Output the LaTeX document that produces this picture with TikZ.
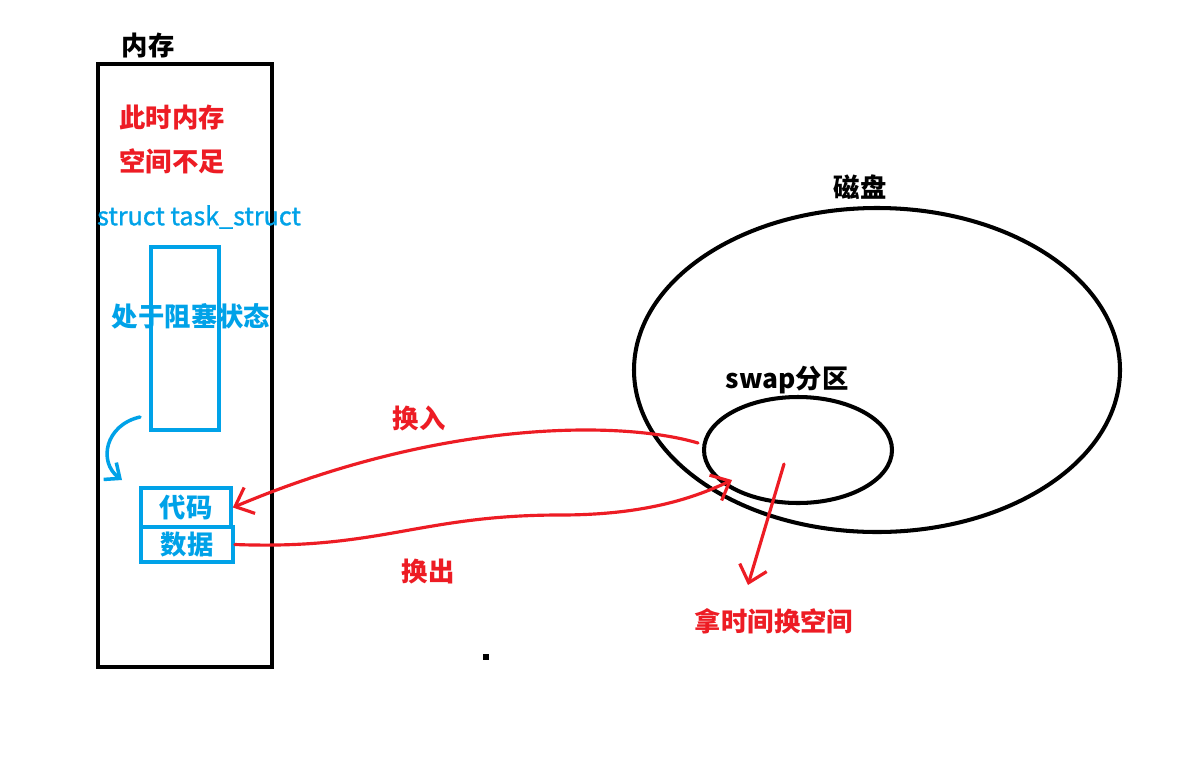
\documentclass[tikz,border=0pt]{standalone}
\usepackage{fontspec}
\newfontfamily\cjk{Noto Sans CJK SC}
\newfontfamily\cjkmid[FakeBold=1.2]{Noto Sans CJK SC}
\usetikzlibrary{arrows.meta,positioning}
\definecolor{paintred}{RGB}{237,28,36}
\definecolor{paintblue}{RGB}{0,162,232}
\newcommand{\cjkbig}{\fontsize{15}{18}\selectfont\cjk\bfseries}

\begin{document}
\begin{tikzpicture}[x=0.02cm, y=-0.02cm,
    blackbox/.style = {draw, line width=2.3pt, inner sep=0pt},
    bluebox/.style = {draw=paintblue, line width=2.1pt, inner sep=0pt},
    title/.style = {font=\cjkbig},
    redlabel/.style = {font=\cjkbig, text=paintred},
    bluelabel/.style = {font=\cjkbig, text=paintblue},
    redline/.style = {draw=paintred, line width=1.8pt, line cap=round},
    barb/.style = {-{Straight Barb[length=9pt, width=16pt, line width=1.8pt]}}
  ]
    \useasboundingbox (0,0) rectangle (1196,758);
    \fill[white] (0,0) rectangle (1196,758);

    % memory
    \node[blackbox, minimum width=3.48cm, minimum height=12.06cm] (mem) at (185,365.5) {};
    \node[title] (memtitle) at (148,45) {内存};
    \node[redlabel] (short1) at (172,117) {此时内存};
    \node[redlabel] (short2) at (172,161) {空间不足};
    \node[font=\fontsize{14.3}{16}\selectfont\cjkmid, text=paintblue] (pcbname) at (199,217) {struct task\_struct};
    \node[bluebox, minimum width=1.36cm, minimum height=3.66cm] (pcb) at (185,338.5) {};
    \node[bluelabel] (blocked) at (191,316) {处于阻塞状态};
    \node[bluebox, minimum width=1.8cm, minimum height=0.78cm] (code) at (186,507.5) {};
    \node[bluelabel] at (code) {代码};
    \node[bluebox, minimum width=1.84cm, minimum height=0.70cm] (data) at (187,544.5) {};
    \node[bluelabel] at (data) {数据};

    \coordinate (bluestart) at (140,417);
    \coordinate (blueend) at (122,480);
    \draw[paintblue, line width=2pt, line cap=round, -{Straight Barb[length=7pt, width=12pt, line width=2pt]}]
        (bluestart) .. controls (105,425) and (98,462) .. (blueend);

    % disk
    \node[title] (disktitle) at (860,187) {磁盘};
    \draw[line width=2.3pt] (877,370) ellipse [x radius=243, y radius=162];
    \coordinate (disk) at (877,370);
    \node[title] (swaptitle) at (787,380) {swap分区};
    \draw[line width=2.3pt] (798,450) ellipse [x radius=94, y radius=53];
    \coordinate (swapin) at (698,443);
    \coordinate (swapout) at (732,480);
    \coordinate (swapmid) at (784,464);
    \coordinate (tradeend) at (748,585);

    % swapping
    \draw[redline, barb] (swapin) .. controls (620,420) and (440,420) .. (code.east);
    \draw[redline, barb] (data.east) .. controls (380,550) and (420,515) .. (560,515)
        .. controls (640,515) and (690,500) .. (swapout);
    \draw[redline, barb] (swapmid) -- (tradeend);
    \node[redlabel] (inlabel) at (419,418) {换入};
    \node[redlabel] (outlabel) at (428,572) {换出};
    \node[redlabel] (trade) at (774,621) {拿时间换空间};

    \fill (483,654) rectangle (489,660);
\end{tikzpicture}
\end{document}
